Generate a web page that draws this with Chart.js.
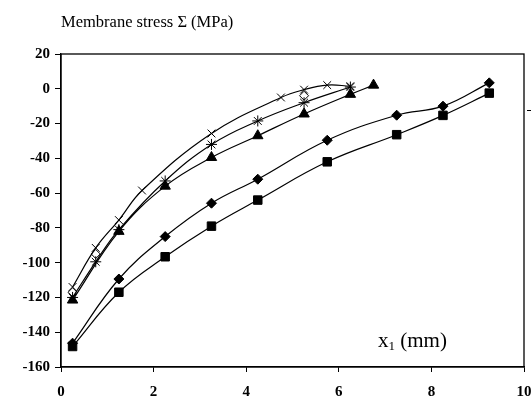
<!DOCTYPE html>
<html><head><meta charset="utf-8">
<script src="https://cdn.jsdelivr.net/npm/chart.js@4/dist/chart.umd.min.js"></script>
<style>html,body{margin:0;padding:0;background:#fff}#wrap{width:531px;height:403px}</style>
</head><body><div id="wrap"><canvas id="c" width="531" height="403"></canvas></div>
<script>
// Data
const crossX = [0.25, 0.75, 1.25, 1.75, 3.25, 4.75, 5.25, 5.75, 6.25];
const crossY = [-114, -91.5, -75.5, -58.5, -25.7, -5, -0.5, 2.1, 1.5];
const starX = [0.25, 0.75, 1.25, 2.25, 3.25, 4.25, 5.25, 6.25];
const starY = [-120, -99.5, -81, -53, -32, -18.5, -8, 1];
const openDiamondX = [0.25, 0.75, 5.25];
const openDiamondY = [-117, -95, -4];
const triangleX = [0.25, 1.25, 2.25, 3.25, 4.25, 5.25, 6.25, 6.75];
const triangleY = [-121.5, -82, -56, -39.5, -27, -14.5, -3.2, 2.1];
const diamondX = [0.25, 1.25, 2.25, 3.25, 4.25, 5.75, 7.25, 8.25, 9.25];
const diamondY = [-146.3, -109.4, -85, -65.8, -52, -29.6, -15.2, -10, 3.4];
const squareX = [0.25, 1.25, 2.25, 3.25, 4.25, 5.75, 7.25, 8.25, 9.25];
const squareY = [-148.2, -117, -96.6, -79, -64, -42, -26.4, -15.3, -2.5];
const xTicks = [0, 2, 4, 6, 8, 10];
const yTicks = [20, 0, -20, -40, -60, -80, -100, -120, -140, -160];
const yTitle = "Membrane stress Σ (MPa)";
const xTitleMain = "x";
const xTitleSub = "1";
const xTitleRest = " (mm)";

const pts = (xs, ys) => xs.map((x, i) => ({x: x, y: ys[i]}));
const base = {borderColor: '#000', borderWidth: 1.2, tension: 0.4, pointBorderColor: '#000', pointBackgroundColor: '#000', pointBorderWidth: 1, fill: false};

const frame = {
  id: 'frame',
  afterDraw(chart) {
    const ctx = chart.ctx, a = chart.chartArea;
    ctx.save();
    ctx.strokeStyle = '#000'; ctx.lineWidth = 1.3;
    ctx.strokeRect(a.left, a.top, a.right - a.left, a.bottom - a.top);
    // small stray mark right of the plot
    ctx.beginPath(); ctx.moveTo(527, 110.5); ctx.lineTo(531, 110.5); ctx.lineWidth = 1; ctx.stroke();
    ctx.fillStyle = '#000';
    ctx.textBaseline = 'alphabetic'; ctx.textAlign = 'left';
    ctx.font = '16.5px "Liberation Serif", "Times New Roman", serif';
    ctx.fillText(yTitle, 61, 27);
    let x = 378, y = 347;
    ctx.font = '21px "Liberation Serif", serif';
    ctx.fillText(xTitleMain, x, y);
    x += ctx.measureText(xTitleMain).width;
    ctx.font = '13px "Liberation Serif", serif';
    ctx.fillText(xTitleSub, x, y + 3);
    x += ctx.measureText(xTitleSub).width;
    ctx.font = '21px "Liberation Serif", serif';
    ctx.fillText(xTitleRest, x, y);
    ctx.restore();
  }
};

new Chart(document.getElementById('c'), {
  type: 'line',
  data: {
    datasets: [
      Object.assign({}, base, {label: 'x', data: pts(crossX, crossY), pointStyle: 'crossRot', pointRadius: 5.5}),
      Object.assign({}, base, {label: 'star', data: pts(starX, starY), pointStyle: 'star', pointRadius: 5.5}),
      Object.assign({}, base, {label: 'open', data: pts(openDiamondX, openDiamondY), showLine: false, pointStyle: 'rectRot', pointRadius: 4.5, pointBackgroundColor: '#fff'}),
      Object.assign({}, base, {label: 'tri', data: pts(triangleX, triangleY), pointStyle: 'triangle', pointRadius: 6}),
      Object.assign({}, base, {label: 'dia', data: pts(diamondX, diamondY), pointStyle: 'rectRot', pointRadius: 5}),
      Object.assign({}, base, {label: 'sq', data: pts(squareX, squareY), pointStyle: 'rect', pointRadius: 6})
    ]
  },
  options: {
    responsive: false, animation: false, devicePixelRatio: 1,
    layout: {padding: {top: 54, right: 7, left: 0, bottom: 0}},
    plugins: {legend: {display: false}, tooltip: {enabled: false}, title: {display: false}},
    scales: {
      x: {
        type: 'linear', min: 0, max: 10,
        afterBuildTicks: s => { s.ticks = xTicks.map(v => ({value: v})); },
        afterFit: s => { s.height = 36; s.paddingRight = 0; s.paddingLeft = 0; },
        grid: {display: true, drawOnChartArea: false, drawTicks: true, tickLength: 5, color: '#000', tickColor: '#000'},
        border: {display: true, color: '#000', width: 1.3},
        ticks: {color: '#000', padding: 11, maxRotation: 0, autoSkip: false, font: {family: '"Liberation Serif", serif', size: 15, weight: 'bold'}}
      },
      y: {
        type: 'linear', min: -160, max: 20,
        afterBuildTicks: s => { s.ticks = yTicks.map(v => ({value: v})); },
        afterFit: s => { s.width = 61; s.paddingTop = 0; s.paddingBottom = 0; },
        grid: {display: true, drawOnChartArea: false, drawTicks: true, tickLength: 6, color: '#000', tickColor: '#000'},
        border: {display: true, color: '#000', width: 1.3},
        ticks: {color: '#000', padding: 5, autoSkip: false, font: {family: '"Liberation Serif", serif', size: 15, weight: 'bold'}}
      }
    }
  },
  plugins: [frame]
});
</script></body></html>
